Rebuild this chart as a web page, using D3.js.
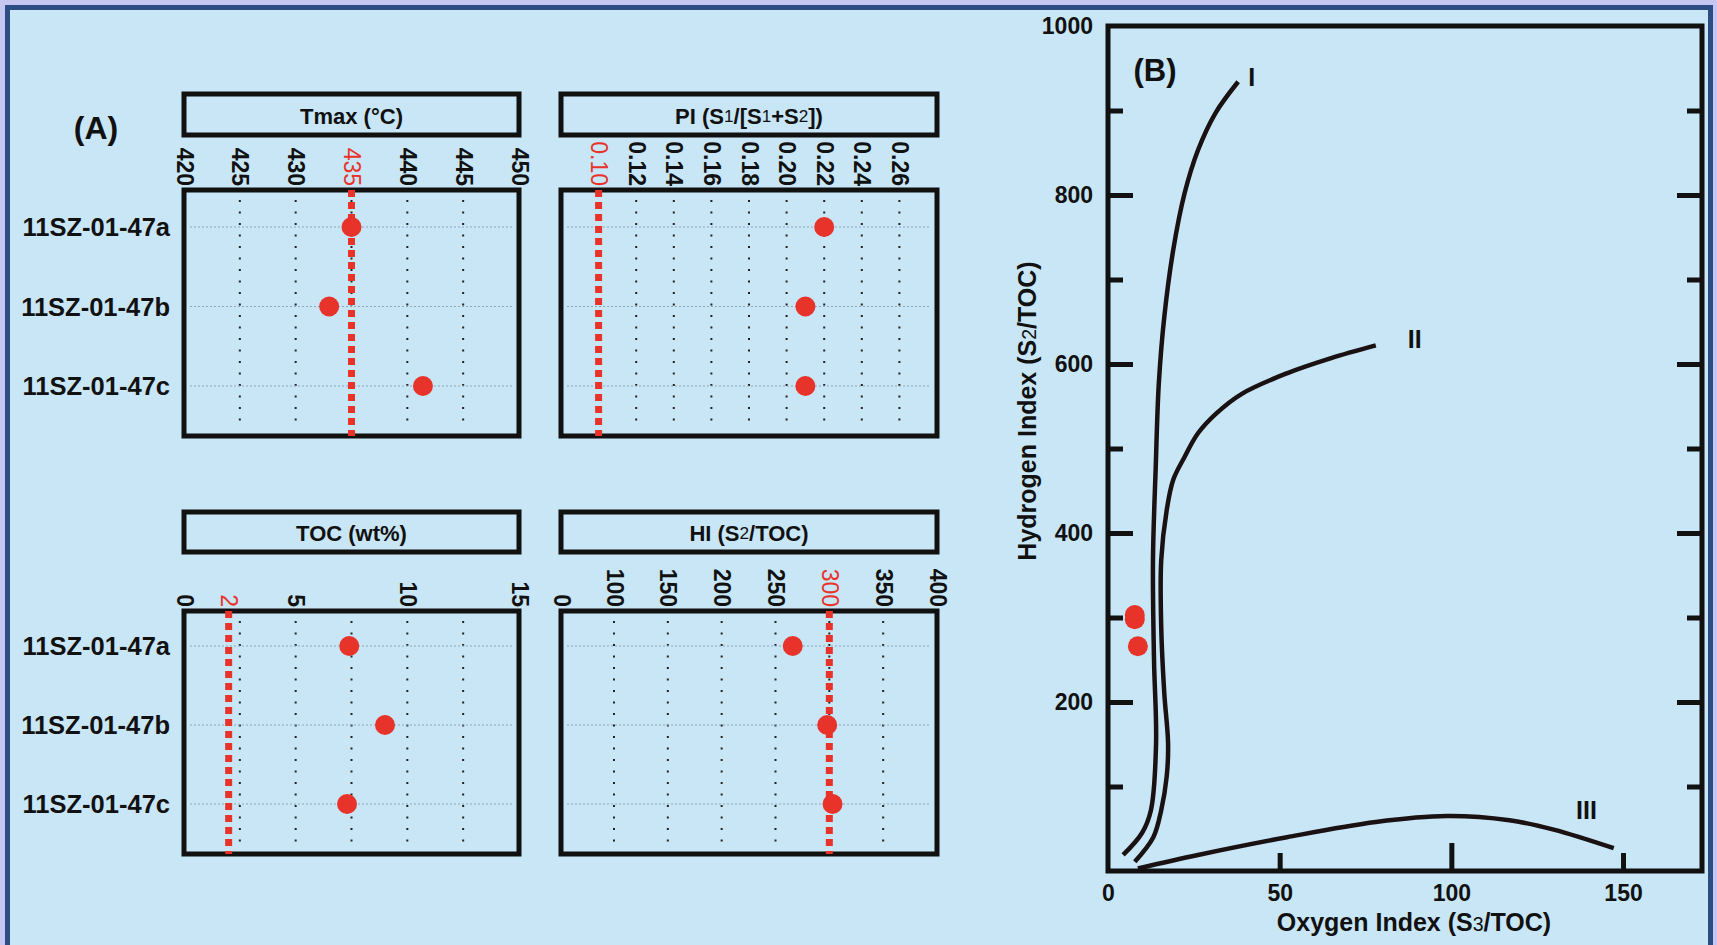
<!doctype html>
<html>
  <head>
    <meta charset="utf-8">
    <title>Rock-Eval summary</title>
    <script src="https://d3js.org/d3.v7.min.js"></script>
    <style type="text/css">
      body { margin: 0; background-color: #c6c6f2; }
      text { font-family: "Liberation Sans", Arial, sans-serif; fill: #111; }
    </style>
  </head>
  <body>
    <script>
      // samples and measured values
      var samples = ["11SZ-01-47a", "11SZ-01-47b", "11SZ-01-47c"];
      var tmax = [435, 433, 441.4];
      var pi = [0.22, 0.21, 0.21];
      var toc = [7.4, 9.0, 7.3];
      var hi = [266, 298, 303];
      var oi = [8.7, 7.8, 7.8];

      // tick labels, grid lines and threshold lines of the strip panels
      var tmaxTicks = [420, 425, 430, 435, 440, 445, 450];
      var tmaxGrid = [425, 430, 435, 440, 445];
      var piTicks = [0.10, 0.12, 0.14, 0.16, 0.18, 0.20, 0.22, 0.24, 0.26];
      var piGrid = [0.12, 0.14, 0.16, 0.18, 0.20, 0.22, 0.24, 0.26];
      var tocTicks = [0, 2, 5, 10, 15];
      var tocGrid = [2.5, 5, 7.5, 10, 12.5];
      var hiTicks = [0, 100, 150, 200, 250, 300, 350, 400];
      var hiGrid = [100, 150, 200, 250, 300, 350];

      // kerogen type curves on the HI / OI diagram
      var typeIOi = [4.4, 9.9, 12.5, 14.0, 13.4, 13.1, 13.9, 14.8, 16.4, 19.0, 22.3, 26.2, 31.3, 37.9];
      var typeIHi = [19, 45, 72, 151, 250, 368, 478, 577, 656, 735, 802, 853, 897, 934];
      var typeIIOi = [7.8, 13.2, 15.5, 17.1, 17.5, 16.4, 15.5, 15.5, 17.1, 19.0, 22.3, 26.2, 31.4, 39.1, 52.1, 65.0, 78.0];
      var typeIIHi = [11, 40, 72, 112, 151, 210, 289, 368, 427, 463, 490, 518, 541, 565, 589, 607, 622];
      var typeIIIOi = [8.7, 26.2, 52.1, 78.0, 98.7, 116.9, 129.8, 147.3];
      var typeIIIHi = [3, 19, 40, 58, 65, 60, 49, 27];

      var yMajor = [200, 400, 600, 800];
      var yMinor = [100, 300, 500, 700, 900];
      var yLabels = [200, 400, 600, 800, 1000];
      var xLabels = [0, 50, 100, 150];

      var w = 1717;
      var h = 945;
      var red = "#e8332b";
      var ink = "#111";

      var svg = d3.select("body")
        .append("svg")
        .attr("width", w)
        .attr("height", h);

      // frame
      svg.append("rect")
        .attr("width", w).attr("height", h)
        .attr("fill", "#c6c6f2");
      svg.append("rect")
        .attr("x", 7.5).attr("y", 7.5)
        .attr("width", 1703).attr("height", 940)
        .attr("fill", "#c8e6f6")
        .attr("stroke", "#2b4d84")
        .attr("stroke-width", 5);

      svg.append("text")
        .attr("x", 96).attr("y", 128)
        .attr("text-anchor", "middle")
        .attr("dominant-baseline", "central")
        .style("font-size", "32px").style("font-weight", "bold")
        .text("(A)");

      // title parts: [text, isSubscript]
      function addTitle(sel, parts, size) {
        parts.forEach(function(p) {
          sel.append("tspan")
            .style("font-size", p[1] ? (size * 0.78) + "px" : size + "px")
            .style("font-weight", p[1] ? "normal" : "bold")
            .text(p[0]);
        });
      }

      function stripPanel(c) {
        var g = svg.append("g");
        var x = c.scale;
        var y = d3.scalePoint().domain(samples).range([c.rowTop, c.rowBot]);

        // header box
        g.append("rect")
          .attr("x", c.x0).attr("y", c.headTop)
          .attr("width", c.x1 - c.x0).attr("height", c.headH)
          .attr("fill", "none").attr("stroke", ink).attr("stroke-width", 5);
        var t = g.append("text")
          .attr("x", (c.x0 + c.x1) / 2).attr("y", c.headTop + c.headH / 2 + 1)
          .attr("text-anchor", "middle")
          .attr("dominant-baseline", "central");
        addTitle(t, c.title, 22);

        // vertical dotted grid
        g.selectAll(".grid")
          .data(c.grid)
          .enter()
          .append("line")
          .attr("x1", function(d) { return x(d); })
          .attr("x2", function(d) { return x(d); })
          .attr("y1", c.top + 10).attr("y2", c.bottom - 8)
          .attr("stroke", "#222").attr("stroke-width", 2)
          .attr("stroke-dasharray", "2 9.5");

        // row guide lines
        g.selectAll(".row")
          .data(samples)
          .enter()
          .append("line")
          .attr("x1", c.x0 + 6).attr("x2", c.x1 - 6)
          .attr("y1", function(d) { return y(d); })
          .attr("y2", function(d) { return y(d); })
          .attr("stroke", "#8ea6b9").attr("stroke-width", 1.2)
          .attr("stroke-dasharray", "2 2");

        // axis labels, rotated
        var axis = g.append("g")
          .attr("transform", "translate(0," + (c.top - 4) + ")")
          .call(d3.axisTop(x).tickValues(c.ticks).tickSize(0).tickFormat(c.fmt));
        axis.select(".domain").remove();
        axis.selectAll("text")
          .attr("x", 0).attr("y", 0).attr("dy", null)
          .attr("transform", "rotate(90)")
          .attr("text-anchor", "end")
          .attr("dominant-baseline", "central")
          .style("font-family", "'Liberation Sans', Arial, sans-serif")
          .style("font-size", "23px")
          .style("font-weight", function(d) { return d === c.limit ? "normal" : "bold"; })
          .style("fill", function(d) { return d === c.limit ? red : ink; });

        if (c.labels) {
          g.selectAll(".lab")
            .data(samples)
            .enter()
            .append("text")
            .attr("x", 170)
            .attr("y", function(d) { return y(d); })
            .attr("text-anchor", "end")
            .attr("dominant-baseline", "central")
            .style("font-size", "25.5px").style("font-weight", "bold")
            .text(function(d) { return d; });
        }

        // plot box
        g.append("rect")
          .attr("x", c.x0).attr("y", c.top)
          .attr("width", c.x1 - c.x0).attr("height", c.bottom - c.top)
          .attr("fill", "none").attr("stroke", ink).attr("stroke-width", 5);

        // threshold line
        g.append("line")
          .attr("x1", x(c.limit)).attr("x2", x(c.limit))
          .attr("y1", c.top).attr("y2", c.bottom)
          .attr("stroke", red).attr("stroke-width", 7)
          .attr("stroke-dasharray", "7 5");

        // sample points
        g.selectAll(".dot")
          .data(c.values)
          .enter()
          .append("circle")
          .attr("cx", function(d) { return x(d); })
          .attr("cy", function(d, i) { return y(samples[i]); })
          .attr("r", 10)
          .attr("fill", red);
      }

      var L0 = 184, L1 = 519, R0 = 561, R1 = 937;
      var topRow = { headTop: 94, headH: 41, top: 190, bottom: 436, rowTop: 227, rowBot: 386 };
      var botRow = { headTop: 512, headH: 40, top: 611, bottom: 854, rowTop: 646, rowBot: 804 };

      stripPanel(Object.assign({}, topRow, {
        x0: L0, x1: L1, labels: true,
        title: [["Tmax (°C)", false]],
        scale: d3.scaleLinear().domain([420, 450]).range([L0, L1]),
        ticks: tmaxTicks, grid: tmaxGrid, limit: 435, values: tmax, fmt: d3.format("d")
      }));
      stripPanel(Object.assign({}, topRow, {
        x0: R0, x1: R1, labels: false,
        title: [["PI (S", false], ["1", true], ["/[S", false], ["1", true], ["+S", false], ["2", true], ["])", false]],
        scale: d3.scaleLinear().domain([0.08, 0.28]).range([R0, R1]),
        ticks: piTicks, grid: piGrid, limit: 0.10, values: pi, fmt: d3.format(".2f")
      }));
      stripPanel(Object.assign({}, botRow, {
        x0: L0, x1: L1, labels: true,
        title: [["TOC (wt%)", false]],
        scale: d3.scaleLinear().domain([0, 15]).range([L0, L1]),
        ticks: tocTicks, grid: tocGrid, limit: 2, values: toc, fmt: d3.format("d")
      }));
      stripPanel(Object.assign({}, botRow, {
        x0: R0, x1: R1, labels: false,
        title: [["HI (S", false], ["2", true], ["/TOC)", false]],
        // broken axis: first step runs 0-100, then linear to 400
        scale: d3.scaleLinear().domain([0, 100, 400]).range([R0, R0 + 53, R1]),
        ticks: hiTicks, grid: hiGrid, limit: 300, values: hi, fmt: d3.format("d")
      }));

      // ---- (B) HI vs OI diagram ----
      var B0 = 1108, B1 = 1702, BT = 26, BB = 871;
      var xB = d3.scaleLinear().domain([0, 173]).range([B0, B1]);
      var yB = d3.scaleLinear().domain([0, 1000]).range([BB, BT]);
      var gB = svg.append("g");

      function ticks(axisFn, vals, size, tx, ty) {
        var a = gB.append("g")
          .attr("transform", "translate(" + tx + "," + ty + ")")
          .call(axisFn.tickValues(vals).tickSize(size).tickFormat(""));
        a.select(".domain").remove();
        a.selectAll("line").attr("stroke", ink).attr("stroke-width", 5);
      }
      ticks(d3.axisRight(yB), yMajor, 25, B0, 0);
      ticks(d3.axisRight(yB), yMinor, 15, B0, 0);
      ticks(d3.axisLeft(yB), yMajor, 25, B1, 0);
      ticks(d3.axisLeft(yB), yMinor, 15, B1, 0);
      ticks(d3.axisTop(xB), [50, 150], 18, 0, BB);
      ticks(d3.axisTop(xB), [100], 28, 0, BB);

      var yl = gB.append("g")
        .attr("transform", "translate(" + B0 + ",0)")
        .call(d3.axisLeft(yB).tickValues(yLabels).tickSize(0).tickPadding(15).tickFormat(d3.format("d")));
      var xl = gB.append("g")
        .attr("transform", "translate(0," + BB + ")")
        .call(d3.axisBottom(xB).tickValues(xLabels).tickSize(0).tickPadding(14).tickFormat(d3.format("d")));
      [yl, xl].forEach(function(a) {
        a.select(".domain").remove();
        a.selectAll("text")
          .style("font-family", "'Liberation Sans', Arial, sans-serif")
          .style("font-size", "23px").style("font-weight", "bold")
          .style("fill", ink);
      });

      var line = d3.line()
        .x(function(d) { return xB(d[0]); })
        .y(function(d) { return yB(d[1]); })
        .curve(d3.curveCatmullRom);
      [[typeIOi, typeIHi], [typeIIOi, typeIIHi], [typeIIIOi, typeIIIHi]].forEach(function(s) {
        gB.append("path")
          .attr("d", line(d3.zip(s[0], s[1])))
          .attr("fill", "none")
          .attr("stroke", "#1a1212")
          .attr("stroke-width", 4.5);
      });

      gB.append("rect")
        .attr("x", B0).attr("y", BT)
        .attr("width", B1 - B0).attr("height", BB - BT)
        .attr("fill", "none").attr("stroke", ink).attr("stroke-width", 5);

      gB.selectAll(".pt")
        .data(hi)
        .enter()
        .append("circle")
        .attr("cx", function(d, i) { return xB(oi[i]); })
        .attr("cy", function(d) { return yB(d); })
        .attr("r", 10)
        .attr("fill", red);

      [["I", 38.5, 940], ["II", 85, 630], ["III", 134, 72]].forEach(function(l) {
        gB.append("text")
          .attr("x", xB(l[1]) + 8).attr("y", yB(l[2]))
          .attr("text-anchor", "start")
          .attr("dominant-baseline", "central")
          .style("font-size", "25px").style("font-weight", "bold")
          .text(l[0]);
      });

      gB.append("text")
        .attr("x", 1155).attr("y", 70)
        .attr("text-anchor", "middle")
        .attr("dominant-baseline", "central")
        .style("font-size", "31px").style("font-weight", "bold")
        .text("(B)");

      var xt = gB.append("text")
        .attr("x", 1414).attr("y", 931)
        .attr("text-anchor", "middle");
      addTitle(xt, [["Oxygen Index (S", false], ["3", true], ["/TOC)", false]], 25);

      var yt = gB.append("text")
        .attr("transform", "translate(1036,411) rotate(-90)")
        .attr("text-anchor", "middle");
      addTitle(yt, [["Hydrogen Index (S", false], ["2", true], ["/TOC)", false]], 25);
    </script>
  </body>
</html>
